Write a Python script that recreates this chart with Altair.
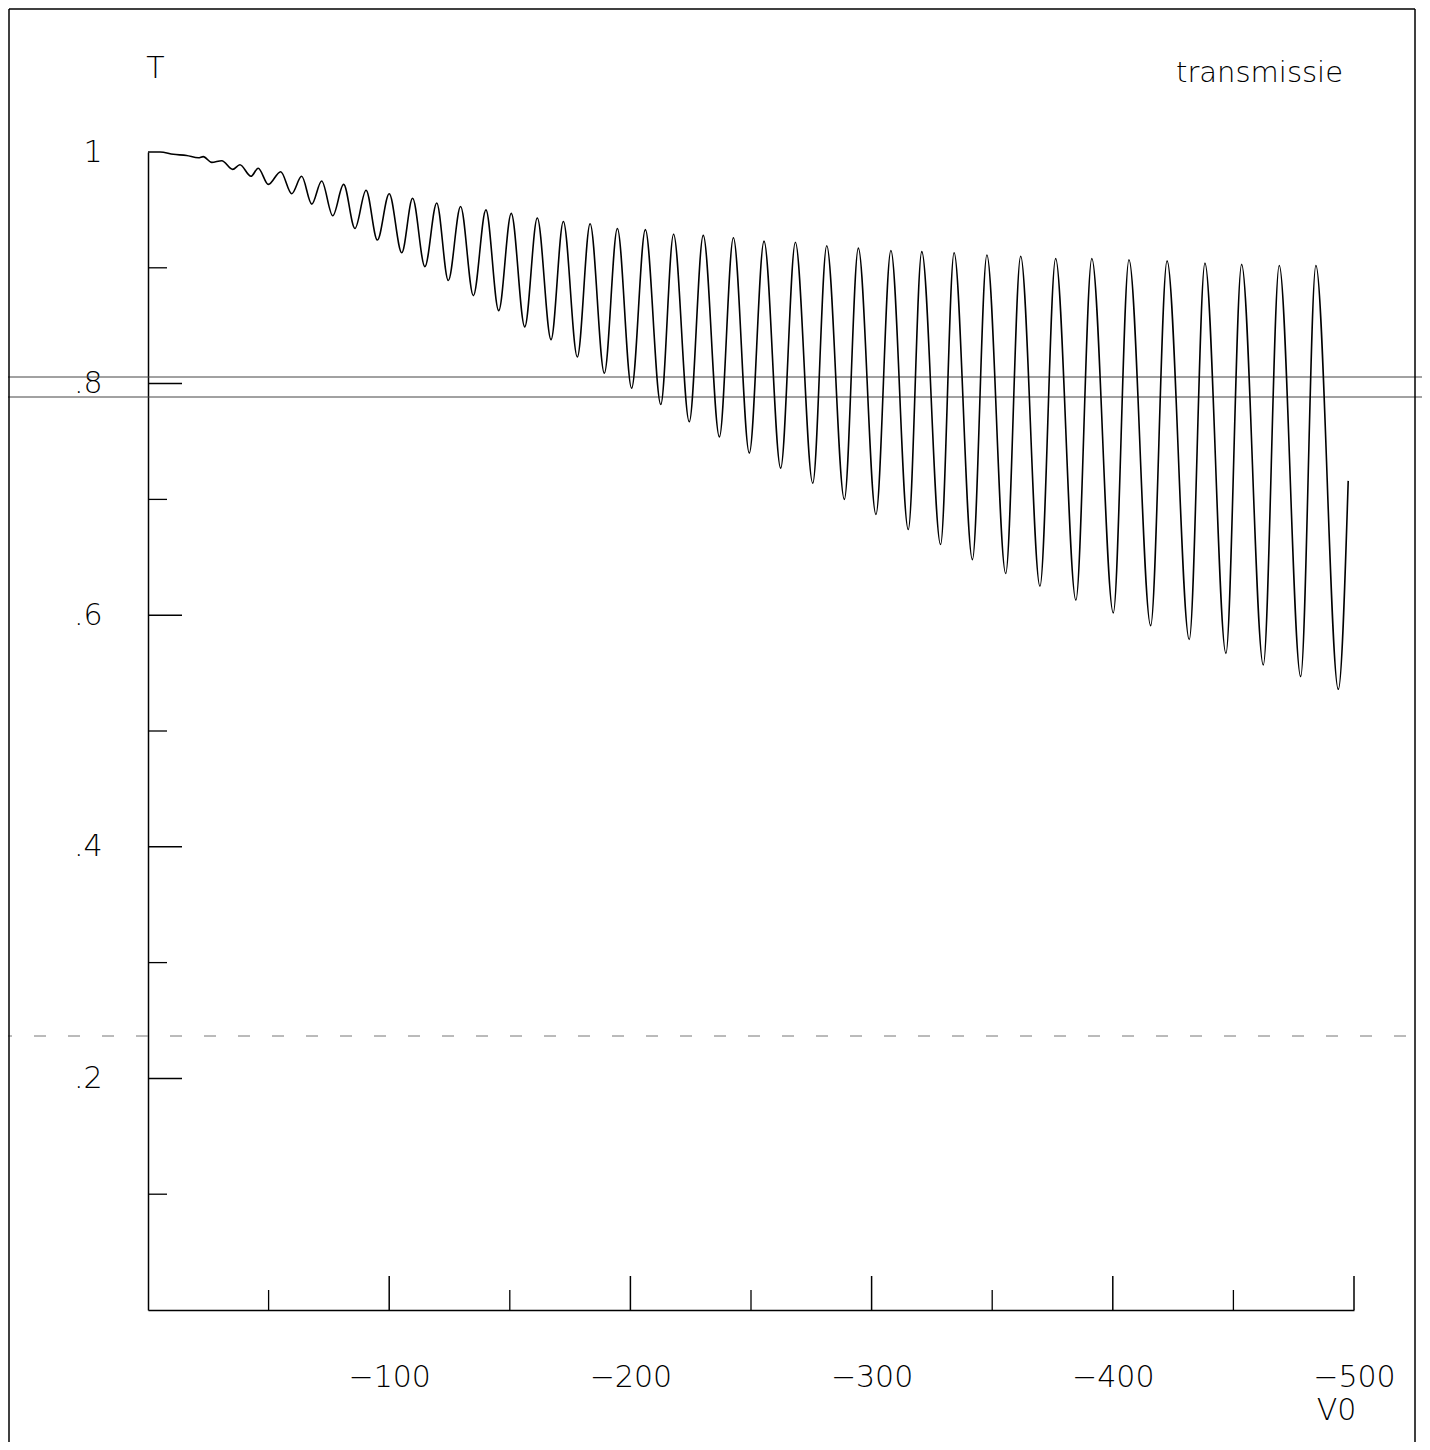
import altair as alt
import pandas as pd

# ---- data (alternating local extrema of T along V0) ----
v0 = [0, -5.0, -10.5, -16.0, -20.9, -22.9, -26.4, -30.6, -35.1, -38.1,
      -42.7, -45.7, -49.9, -55.0, -59.6, -63.7, -67.9, -72.0, -76.6, -81.1,
      -85.8, -90.4, -95.1, -100.0, -105.2, -109.7, -114.8, -119.7, -124.5, -129.6,
      -134.9, -140.1, -145.4, -150.6, -156.2, -161.4, -167.1, -172.2, -178.0, -183.3,
      -189.2, -194.6, -200.5, -206.2, -212.6, -217.9, -224.4, -230.2, -236.9, -242.7,
      -249.3, -255.4, -262.3, -268.4, -275.6, -281.4, -288.7, -294.5, -301.8, -308.0,
      -315.2, -320.8, -328.6, -334.2, -341.8, -347.8, -355.6, -361.8, -369.8, -376.3,
      -384.7, -391.3, -400.2, -406.7, -415.7, -422.5, -431.7, -438.2, -446.9, -453.4,
      -462.4, -469.0, -477.9, -484.2, -493.5, -497.6]
t_vals = [1.000, 1.000, 0.998, 0.997, 0.995, 0.996, 0.991, 0.9925, 0.985, 0.989,
          0.979, 0.986, 0.972, 0.983, 0.964, 0.979, 0.955, 0.975, 0.945, 0.972,
          0.934, 0.967, 0.924, 0.964, 0.913, 0.960, 0.901, 0.956, 0.889, 0.953,
          0.876, 0.950, 0.863, 0.947, 0.849, 0.943, 0.838, 0.940, 0.823, 0.938,
          0.809, 0.934, 0.796, 0.933, 0.782, 0.929, 0.767, 0.928, 0.754, 0.926,
          0.740, 0.923, 0.727, 0.922, 0.714, 0.919, 0.700, 0.917, 0.687, 0.915,
          0.674, 0.914, 0.661, 0.913, 0.648, 0.911, 0.636, 0.910, 0.625, 0.908,
          0.613, 0.908, 0.602, 0.907, 0.591, 0.906, 0.579, 0.904, 0.567, 0.903,
          0.557, 0.902, 0.547, 0.902, 0.536, 0.716]

x_major = [-100, -200, -300, -400, -500]
x_minor = [-50, -150, -250, -350, -450]
y_major = [0.2, 0.4, 0.6, 0.8]
y_minor = [0.1, 0.3, 0.5, 0.7, 0.9]
y_labels = [0.2, 0.4, 0.6, 0.8, 1.0]
legend_text = ["transmissie"]

W, H = 1206, 1158
FONT = "DejaVu Sans"

df = pd.DataFrame({"V0": v0, "T": t_vals, "idx": list(range(len(v0)))})
xs = alt.Scale(domain=[0, -500], nice=False, zero=False)
ys = alt.Scale(domain=[0, 1], nice=False, zero=False)

x_axis = alt.Axis(values=x_major, labelExpr="'\u2212' + abs(datum.value)",
                  ticks=False, tickSize=0, grid=False, domain=True,
                  domainColor="black", domainWidth=1.5,
                  labelFont=FONT, labelFontSize=30, labelColor="black",
                  labelFontWeight=200, labelPadding=52, labelFlush=False,
                  labelOverlap=False,
                  title="V0", titleX=1188, titleY=100, titleFont=FONT,
                  titleFontSize=30, titleFontWeight=200, titleColor="black",
                  titleAlign="center", titleBaseline="middle")
y_axis = alt.Axis(values=y_labels,
                  labelExpr="datum.value == 1 ? '1' : replace(format(datum.value, '.1f'), '0.', '.')",
                  ticks=False, tickSize=0, grid=False, domain=True,
                  domainColor="black", domainWidth=1.5,
                  labelFont=FONT, labelFontSize=30, labelColor="black",
                  labelFontWeight=200, labelPadding=46, labelAlign="right",
                  labelBaseline="middle", labelFlush=False, labelOverlap=False,
                  title="T", titleAngle=0, titleX=7, titleY=-84, titleFont=FONT,
                  titleFontSize=30, titleFontWeight=200, titleColor="black",
                  titleAlign="center", titleBaseline="middle")

curve = alt.Chart(df).mark_line(color="black", strokeWidth=1.6,
                                interpolate="monotone").encode(
    x=alt.X("V0:Q", scale=xs, axis=x_axis),
    y=alt.Y("T:Q", scale=ys, axis=y_axis),
    order=alt.Order("idx:Q"),
)

# inward ticks
ytk_maj = alt.Chart(pd.DataFrame({"T": y_major})).mark_rule(color="black", strokeWidth=1.5).encode(
    y=alt.Y("T:Q", scale=ys), x=alt.value(0), x2=alt.value(34))
ytk_min = alt.Chart(pd.DataFrame({"T": y_minor})).mark_rule(color="black", strokeWidth=1.3).encode(
    y=alt.Y("T:Q", scale=ys), x=alt.value(0), x2=alt.value(19))
xtk_maj = alt.Chart(pd.DataFrame({"V0": x_major})).mark_rule(color="black", strokeWidth=1.5).encode(
    x=alt.X("V0:Q", scale=xs), y=alt.value(H), y2=alt.value(H - 34))
xtk_min = alt.Chart(pd.DataFrame({"V0": x_minor})).mark_rule(color="black", strokeWidth=1.3).encode(
    x=alt.X("V0:Q", scale=xs), y=alt.value(H), y2=alt.value(H - 20))

# curve label in the upper right corner
label = alt.Chart(pd.DataFrame({"txt": legend_text})).mark_text(
    font=FONT, fontSize=29, fontWeight=200, color="black",
    align="right", baseline="alphabetic").encode(
    text="txt:N", x=alt.value(1195), y=alt.value(-70))

one = pd.DataFrame({"a": [0]})
# page frame of the scanned sheet
frame_top = alt.Chart(one).mark_rule(color="black", strokeWidth=1.5).encode(
    x=alt.value(-139), x2=alt.value(1267), y=alt.value(-143))
frame_left = alt.Chart(one).mark_rule(color="black", strokeWidth=1.5).encode(
    x=alt.value(-139), y=alt.value(-143), y2=alt.value(1298))
frame_right = alt.Chart(one).mark_rule(color="black", strokeWidth=1.5).encode(
    x=alt.value(1267), y=alt.value(-143), y2=alt.value(1298))
# scanner streaks across the sheet
streak1 = alt.Chart(one).mark_rule(color="#444444", strokeWidth=1).encode(
    x=alt.value(-148), x2=alt.value(1282), y=alt.value(225))
streak2 = alt.Chart(one).mark_rule(color="#444444", strokeWidth=1).encode(
    x=alt.value(-148), x2=alt.value(1282), y=alt.value(245))
streak3 = alt.Chart(one).mark_rule(color="#777777", strokeWidth=1, strokeDash=[12, 22]).encode(
    x=alt.value(-148), x2=alt.value(1282), y=alt.value(884))

chart = alt.layer(
    streak1, streak2, streak3, frame_top, frame_left, frame_right,
    ytk_maj, ytk_min, xtk_maj, xtk_min, label, curve
).properties(
    width=W, height=H,
    background="white",
    autosize=alt.AutoSizeParams(type="none"),
    padding={"left": 140, "top": 144, "right": 68, "bottom": 132},
).configure_view(stroke=None)

chart.save("out.html", embed_options={"renderer": "svg", "actions": False})
